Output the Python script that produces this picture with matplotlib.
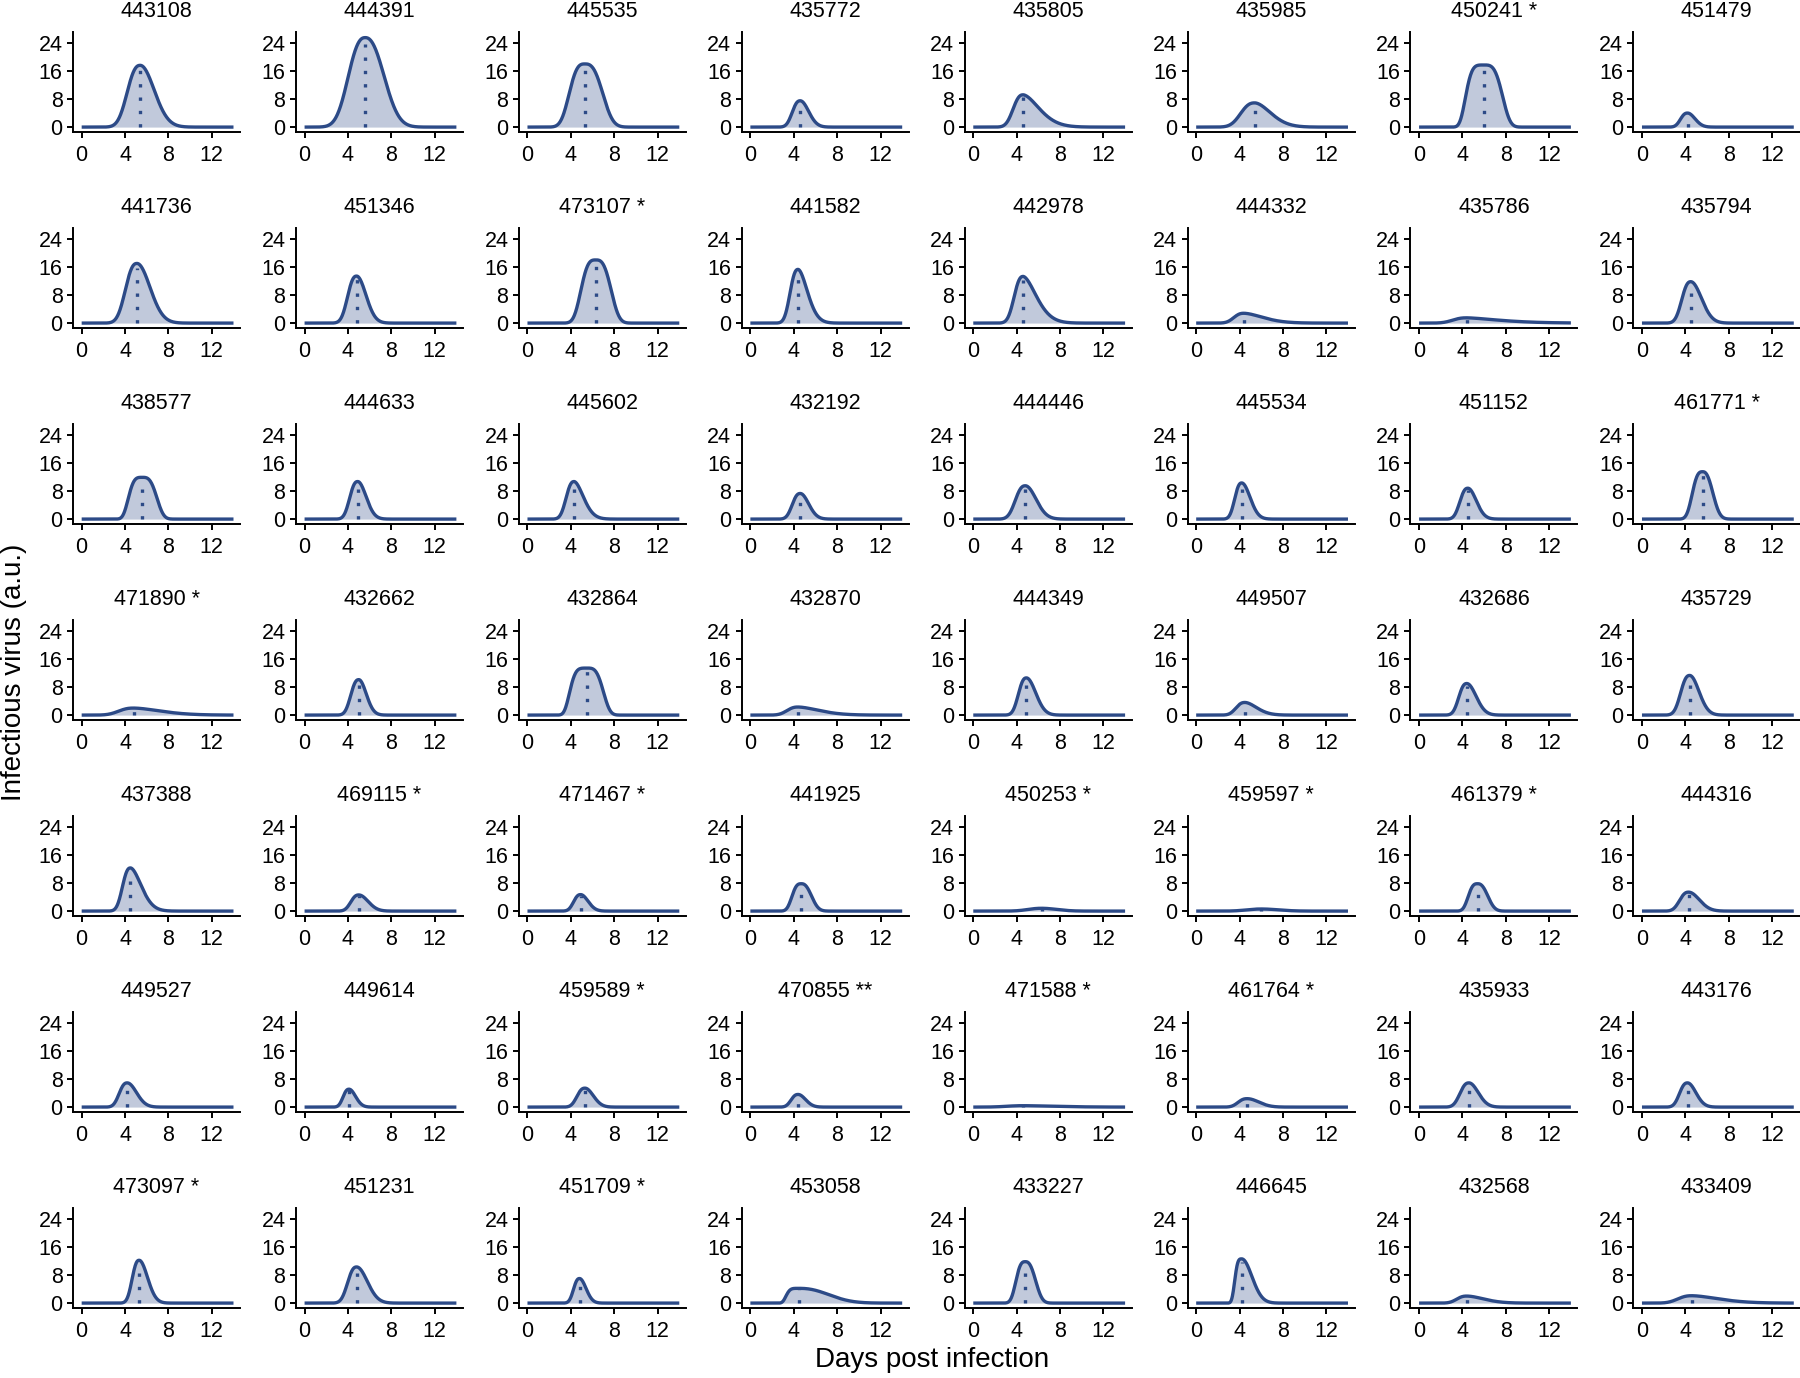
import numpy as np
import matplotlib.pyplot as plt

plt.rcParams['font.family'] = ['Liberation Sans', 'DejaVu Sans']

# panel titles, row by row
names = ['443108', '444391', '445535', '435772', '435805', '435985', '450241 *', '451479',
         '441736', '451346', '473107 *', '441582', '442978', '444332', '435786', '435794',
         '438577', '444633', '445602', '432192', '444446', '445534', '451152', '461771 *',
         '471890 *', '432662', '432864', '432870', '444349', '449507', '432686', '435729',
         '437388', '469115 *', '471467 *', '441925', '450253 *', '459597 *', '461379 *', '444316',
         '449527', '449614', '459589 *', '470855 **', '471588 *', '461764 *', '435933', '443176',
         '473097 *', '451231', '451709 *', '453058', '433227', '446645', '432568', '433409']

# peak height (a.u.) and time of peak (days)
peak_height = [17.6, 25.5, 18.0, 7.5, 9.2, 6.9, 17.7, 4.0,
               17.0, 13.4, 18.0, 15.3, 13.3, 2.8, 1.5, 11.8,
               11.9, 10.7, 10.7, 7.3, 9.5, 10.3, 8.8, 13.5,
               2.0, 10.1, 13.4, 2.3, 10.6, 3.6, 9.0, 11.3,
               12.3, 4.6, 4.7, 7.8, 0.8, 0.6, 7.8, 5.4,
               6.9, 5.1, 5.4, 3.6, 0.4, 2.4, 6.9, 6.9,
               12.2, 10.3, 7.0, 4.2, 11.8, 12.6, 2.0, 2.1]
peak_day = [5.4, 5.6, 5.3, 4.6, 4.6, 5.4, 6.0, 4.2,
            5.1, 4.8, 6.3, 4.4, 4.6, 4.4, 4.4, 4.5,
            5.6, 4.9, 4.3, 4.6, 4.8, 4.2, 4.5, 5.6,
            4.8, 5.0, 5.5, 4.4, 4.9, 4.5, 4.4, 4.4,
            4.5, 5.0, 4.9, 4.7, 6.3, 6.0, 5.4, 4.3,
            4.2, 4.1, 5.3, 4.4, 4.6, 4.7, 4.6, 4.2,
            5.3, 4.8, 4.8, 4.5, 4.8, 4.2, 4.4, 4.6]
# half width at half maximum before / after the peak (days)
half_left = [1.3, 1.7, 1.5, 0.8, 1.0, 1.4, 1.7, 0.7,
             1.15, 0.9, 1.4, 0.8, 0.9, 1.0, 1.4, 0.9,
             1.3, 0.8, 0.8, 0.8, 1.0, 0.7, 0.8, 1.0,
             1.5, 0.8, 1.6, 1.1, 0.8, 0.9, 0.8, 0.9,
             0.8, 0.8, 0.7, 0.9, 1.4, 1.5, 0.9, 0.9,
             0.8, 0.6, 0.8, 0.7, 1.7, 0.9, 0.9, 0.8,
             0.7, 0.9, 0.6, 1.2, 0.9, 0.65, 1.0, 1.4]
half_right = [1.5, 1.9, 1.7, 0.9, 1.7, 1.7, 1.7, 0.8,
              1.4, 1.0, 1.45, 1.0, 1.4, 2.0, 3.3, 1.15,
              1.35, 0.9, 1.0, 0.9, 1.15, 0.9, 0.9, 1.0,
              2.8, 0.8, 1.5, 2.2, 1.0, 1.25, 1.0, 1.0,
              1.15, 1.0, 0.8, 1.0, 1.6, 1.8, 1.0, 1.15,
              1.0, 0.7, 0.9, 0.8, 3.3, 1.25, 1.0, 0.9,
              0.9, 1.15, 0.7, 3.0, 1.0, 1.1, 1.8, 2.8]
# flatness of the rise / decay (2 = gaussian-like, larger = flatter top)
shape_left = [2.5, 2.5, 3.0, 2.5, 2.5, 2.5, 4.5, 2.5,
              2.5, 2.5, 3.2, 2.5, 2.5, 2.5, 2.5, 2.5,
              3.8, 2.5, 2.5, 2.5, 2.5, 2.5, 2.5, 3.0,
              2.5, 2.5, 4.5, 2.5, 2.5, 2.5, 2.5, 2.5,
              2.5, 2.5, 2.5, 3.0, 2.2, 2.2, 3.0, 2.5,
              2.5, 2.5, 2.5, 2.5, 2.2, 2.5, 2.5, 2.5,
              2.5, 2.5, 2.5, 5.0, 3.0, 3.5, 2.5, 2.5]
shape_right = [2.0, 2.3, 2.8, 2.0, 1.7, 1.8, 3.5, 2.0,
               2.0, 2.0, 3.0, 1.8, 1.7, 1.7, 1.5, 2.0,
               3.2, 2.0, 1.8, 2.0, 2.0, 2.0, 2.0, 2.5,
               1.7, 2.0, 3.5, 1.7, 2.0, 1.8, 2.0, 2.0,
               1.8, 2.0, 2.0, 2.5, 2.0, 2.0, 2.5, 2.0,
               2.0, 2.0, 2.0, 2.0, 1.7, 2.0, 2.0, 2.0,
               2.0, 2.0, 2.0, 2.3, 2.6, 2.0, 1.8, 1.7]

line_col = '#2c4a87'
fill_col = '#c1c9db'

fig = plt.figure(figsize=(18, 13.78), dpi=100)
W, H = 1800.0, 1378.0
t = np.linspace(0, 14, 500)

for k, name in enumerate(names):
    r, c = divmod(k, 8)
    x0 = 73 + c * 222.9
    top = 32 + r * 196
    ax = fig.add_axes([x0 / W, 1 - (top + 100) / H, 167 / W, 100 / H])

    d = t - peak_day[k]
    hw = np.where(d < 0, half_left[k], half_right[k])
    p = np.where(d < 0, shape_left[k], shape_right[k])
    y = peak_height[k] * np.exp(-np.log(2) * (np.abs(d) / hw) ** p)

    ax.fill_between(t, 0, y, color=fill_col, lw=0)
    ax.plot(t, y, color=line_col, lw=2.4, solid_capstyle='butt')
    ax.plot([peak_day[k], peak_day[k]], [0, peak_height[k] * 0.93],
            color=line_col, lw=2.4, linestyle=(0, (1, 3)))

    ax.set_xlim(-0.8, 14.6)
    ax.set_ylim(-1.4, 27.1)
    ax.set_xticks([0, 4, 8, 12])
    ax.set_yticks([0, 8, 16, 24])
    for s in ['top', 'right']:
        ax.spines[s].set_visible(False)
    for s in ['left', 'bottom']:
        ax.spines[s].set_linewidth(1.4)
    ax.tick_params(direction='out', length=4.5, width=1.4, labelsize=15.5, pad=3)
    ax.tick_params(axis='x', pad=5)
    ax.set_title(name, fontsize=15.5, pad=10.5)

fig.text(932 / W, 1 - 1360 / H, 'Days post infection', fontsize=20,
         ha='center', va='center')
fig.text(14 / W, 1 - 672 / H, 'Infectious virus (a.u.)', fontsize=20,
         ha='center', va='center', rotation=90)

fig.savefig('out.png', dpi=100)
